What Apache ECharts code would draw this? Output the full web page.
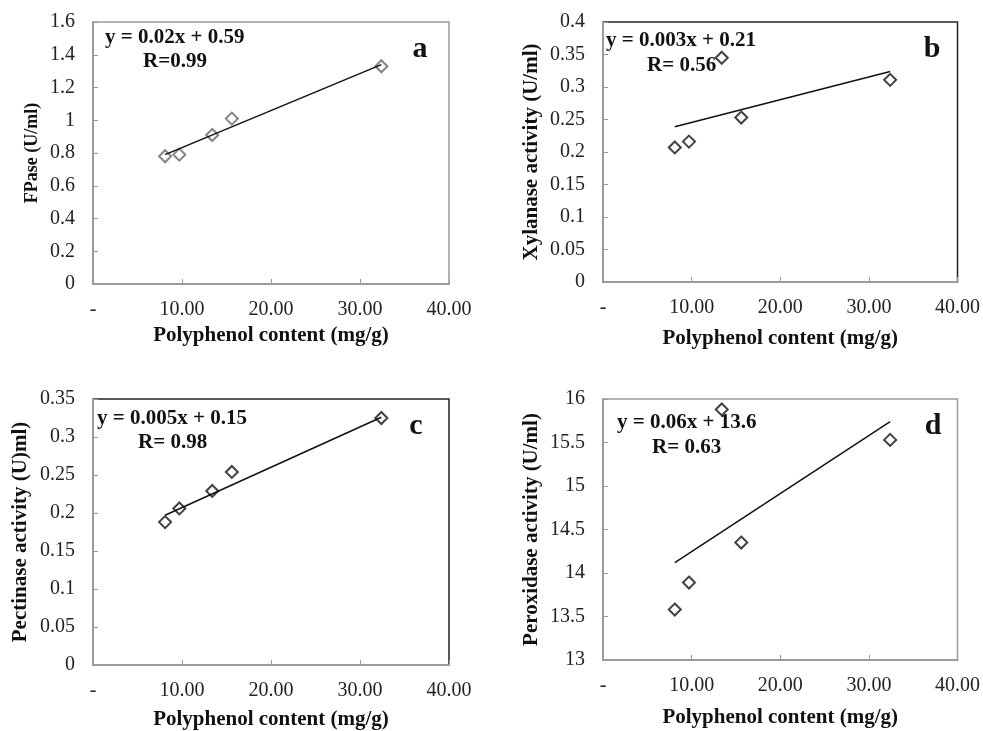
<!DOCTYPE html>
<html>
<head>
<meta charset="utf-8">
<script src="https://cdn.jsdelivr.net/npm/echarts@6/dist/echarts.min.js"></script>
<style>
  html, body { margin: 0; padding: 0; background: #fff; }
  #main { width: 983px; height: 731px; }
</style>
</head>
<body>
<div id="main"></div>
<script>
// polyphenol content (mg/g), same x for every panel
var polyphenol = [8.1, 9.7, 13.4, 15.6, 32.4];

// enzyme activities
var fpase = [0.78, 0.79, 0.91, 1.01, 1.33];
var xylanase = [0.207, 0.216, 0.345, 0.253, 0.311];
var pectinase = [0.188, 0.206, 0.229, 0.254, 0.325];
var peroxidase = [13.58, 13.89, 15.88, 14.35, 15.53];

// trend line end points (x from trendX, y)
var trendX = [8.1, 32.4];
var fpaseTrend = [0.79, 1.34];
var xylanaseTrend = [0.239, 0.324];
var pectinaseTrend = [0.197, 0.326];
var peroxidaseTrend = [14.12, 15.74];

var xTicks = [0, 10, 20, 30, 40];
var yRanges = [[0, 1.6, 0.2], [0, 0.4, 0.05], [0, 0.35, 0.05], [13, 16, 0.5]];
var yNames = ['FPase (U/ml)', 'Xylanase activity (U/ml)', 'Pectinase activity (U)ml)', 'Peroxidase activity (U/ml)'];
var xName = 'Polyphenol content (mg/g)';
var equations = ['y = 0.02x + 0.59', 'y = 0.003x + 0.21', 'y = 0.005x + 0.15', 'y = 0.06x + 13.6'];
var rValues = ['R=0.99', 'R= 0.56', 'R= 0.98', 'R= 0.63'];
var letters = ['a', 'b', 'c', 'd'];

var serif = '"Liberation Serif", "Times New Roman", serif';
var axisGray = '#9a9a9a';

var dom = document.getElementById('main');
var myChart = echarts.init(dom);

var grids = [
  { left: 93, top: 22, width: 356, height: 262, borderColor: axisGray },
  { left: 603, top: 22, width: 356, height: 260, borderColor: '#222' },
  { left: 93, top: 399, width: 356, height: 267, borderColor: '#222' },
  { left: 603, top: 399, width: 357, height: 261, borderColor: axisGray }
];
var yNameGap = [52, 61, 62, 61];
var yNameSize = [18, 21, 21, 21];
var xNameGap = [41, 46, 44, 47];
var markerColor = ['#666', '#111', '#111', '#111'];
var ySets = [fpase, xylanase, pectinase, peroxidase];
var trends = [fpaseTrend, xylanaseTrend, pectinaseTrend, peroxidaseTrend];

// equation / letter positions [eqLeft, eqY, rLeft, rY, letterX, letterY]
var textPos = [
  [105, 39, 143, 63, 420, 49],
  [606, 42, 647, 67, 932, 49],
  [97, 420, 138, 444, 416, 426],
  [617, 424, 652, 449, 933, 426]
];

var option = {
  animation: false,
  grid: [],
  xAxis: [],
  yAxis: [],
  series: [],
  graphic: []
};

for (var i = 0; i < 4; i++) {
  var g = grids[i];
  option.grid.push({
    left: g.left, top: g.top, width: g.width, height: g.height,
    show: true, borderColor: g.borderColor, borderWidth: 1.5,
    backgroundColor: 'transparent'
  });
  option.xAxis.push({
    type: 'value', gridIndex: i,
    min: xTicks[0], max: xTicks[xTicks.length - 1], interval: 10,
    name: xName, nameLocation: 'middle', nameGap: xNameGap[i],
    nameTextStyle: { fontFamily: serif, fontWeight: 'bold', fontSize: 21, color: '#111' },
    axisLine: { lineStyle: { color: axisGray, width: 2 } },
    axisTick: { inside: true, length: 5, lineStyle: { color: axisGray } },
    splitLine: { show: false },
    axisLabel: {
      margin: 16, fontFamily: serif, fontSize: 20, color: '#222',
      formatter: function (v) { return v === 0 ? '-' : v.toFixed(2); }
    }
  });
  option.yAxis.push({
    type: 'value', gridIndex: i,
    min: yRanges[i][0], max: yRanges[i][1], interval: yRanges[i][2],
    name: yNames[i], nameLocation: 'middle', nameGap: yNameGap[i],
    nameTextStyle: { fontFamily: serif, fontWeight: 'bold', fontSize: yNameSize[i], color: '#111' },
    axisLine: { lineStyle: { color: axisGray, width: 2 } },
    axisTick: { inside: true, length: 5, lineStyle: { color: axisGray } },
    splitLine: { show: false },
    axisLabel: { margin: 18, fontFamily: serif, fontSize: 20, color: '#222' }
  });

  var pts = [];
  for (var k = 0; k < polyphenol.length; k++) pts.push([polyphenol[k], ySets[i][k]]);
  option.series.push({
    type: 'line', xAxisIndex: i, yAxisIndex: i,
    data: [[trendX[0], trends[i][0]], [trendX[1], trends[i][1]]],
    showSymbol: false, symbol: 'none',
    lineStyle: { color: '#111', width: 1.5 }
  });
  option.series.push({
    type: 'scatter', xAxisIndex: i, yAxisIndex: i,
    data: pts, symbol: 'diamond', symbolSize: 12,
    itemStyle: { color: 'rgba(255,255,255,0)', borderColor: markerColor[i], borderWidth: 2 }
  });

  var p = textPos[i];
  option.graphic.push({
    type: 'text', left: p[0], top: p[1] - 12,
    style: { text: equations[i], font: 'bold 21px ' + serif, fill: '#111' }
  });
  option.graphic.push({
    type: 'text', left: p[2], top: p[3] - 12,
    style: { text: rValues[i], font: 'bold 21px ' + serif, fill: '#111' }
  });
  option.graphic.push({
    type: 'text', x: p[4], y: p[5],
    style: { text: letters[i], font: 'bold 30px ' + serif, fill: '#111', align: 'center', verticalAlign: 'middle' }
  });
}

myChart.setOption(option);
</script>
</body>
</html>
